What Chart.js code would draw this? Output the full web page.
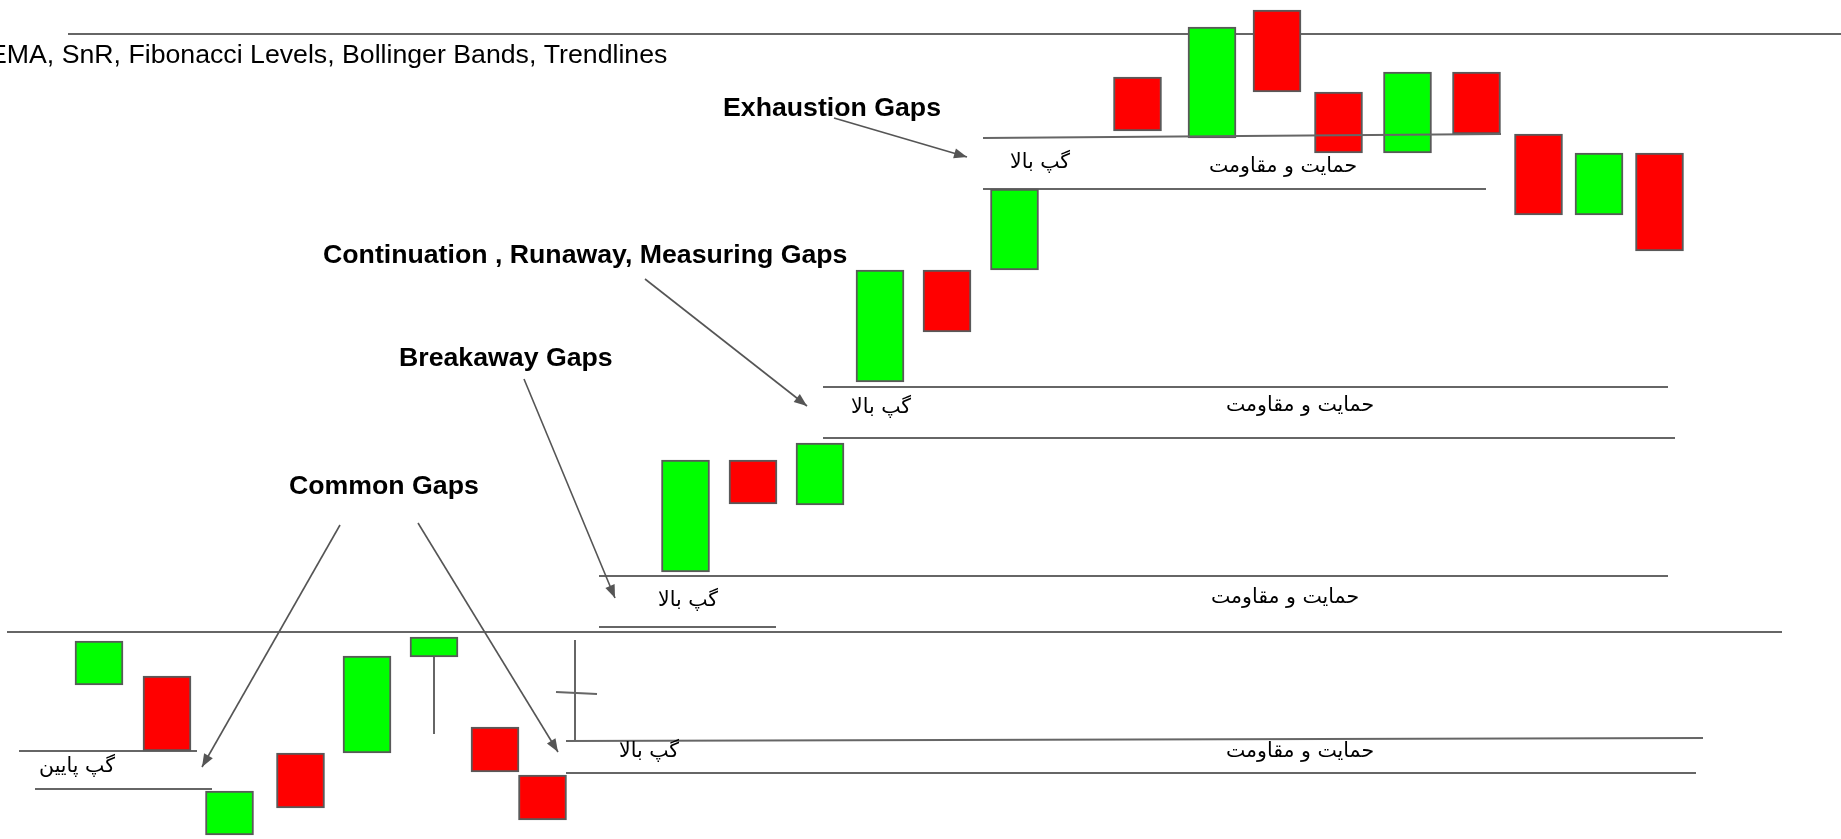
<!DOCTYPE html>
<html>
<head>
<meta charset="utf-8">
<script src="https://cdn.jsdelivr.net/npm/chart.js@4.4.1/dist/chart.umd.min.js"></script>
<style>
  html, body { margin: 0; padding: 0; background: #fff; overflow: hidden; }
  #wrap { position: relative; width: 1841px; height: 839px; }
</style>
</head>
<body>
<div id="wrap"><canvas id="gapChart"></canvas></div>
<script>
// candles: position on the time axis, open and close (price units, up = higher)
const candleX     = [99, 167, 229.5, 300.5, 367, 434, 495, 542.5, 685.5, 753, 820, 880, 947, 1014.5, 1137.5, 1212, 1277, 1338.5, 1407.5, 1476.5, 1538.5, 1599, 1659.5];
const candleOpen  = [154, 163, 4, 86, 86, 182, 112, 64, 267, 379, 334, 457, 569, 569, 762, 701, 829, 747, 686, 767, 705, 624, 686];
const candleClose = [198, 88, 48, 31, 183, 202, 67, 19, 379, 335, 396, 569, 507, 650, 708, 812, 747, 686, 767, 705, 624, 686, 588];

// support / resistance and gap lines: [x1, price1, x2, price2]
const levelLines = [
  [68, 805, 1841, 805],
  [983, 701, 1501, 705],
  [983, 650, 1486, 650],
  [823, 452, 1668, 452],
  [823, 401, 1675, 401],
  [599, 263, 1668, 263],
  [599, 212, 776, 212],
  [7, 207, 1782, 207],
  [566, 98, 1703, 101],
  [566, 66, 1696, 66],
  [19, 88, 197, 88],
  [35, 50, 212, 50],
  [575, 199, 575, 99],
  [556, 147, 597, 145],
  [434, 182, 434, 105]
];

// arrows from the labels to the gaps: [x1, price1, x2, price2]
const arrowLines = [
  [834, 721, 967, 682],
  [645, 560, 807, 433],
  [524, 460, 615, 241],
  [340, 314, 202, 72],
  [418, 316, 558, 87]
];

const gapNames = ['Exhaustion Gaps', 'Continuation , Runaway, Measuring Gaps', 'Breakaway Gaps', 'Common Gaps'];
const gapNameX = [723, 323, 399, 289];
const gapNameP = [730, 583, 480, 352];

const faLabels = ['گپ بالا', 'حمایت و مقاومت', 'گپ بالا', 'حمایت و مقاومت', 'گپ بالا', 'حمایت و مقاومت', 'گپ پایین', 'گپ بالا', 'حمایت و مقاومت'];
const faLabelX = [1040, 1283, 881, 1300, 688, 1285, 77, 649, 1300];
const faLabelP = [676, 672, 431, 433, 238, 241, 72, 87, 87];

const headerText = 'EMA, SnR, Fibonacci Levels, Bollinger Bands, Trendlines';
const headerX = -11;
const headerP = 783;

const lineGray = '#666666';
const arrowGray = '#555555';

const datasets = [];

datasets.push({
  type: 'bar',
  data: candleX.map((x, i) => ({ x: x, y: [candleOpen[i], candleClose[i]] })),
  backgroundColor: candleX.map((_, i) => candleClose[i] > candleOpen[i] ? '#00ff00' : '#ff0000'),
  borderColor: '#595959',
  borderWidth: 2,
  borderSkipped: false,
  barThickness: 48,
  order: 1
});

levelLines.forEach((l, i) => {
  datasets.push({
    type: 'line',
    data: [{ x: l[0], y: l[1] }, { x: l[2], y: l[3] }],
    borderColor: lineGray,
    borderWidth: 2,
    pointRadius: 0,
    fill: false,
    // the upper exhaustion line runs over the candles
    order: i === 1 ? 0 : 2
  });
});

arrowLines.forEach(l => {
  datasets.push({
    type: 'line',
    data: [{ x: l[0], y: l[1] }, { x: l[2], y: l[3] }],
    borderColor: arrowGray,
    borderWidth: 1.6,
    pointRadius: 0,
    fill: false,
    isArrow: true,
    order: 0
  });
});

const arrowHeads = {
  id: 'arrowHeads',
  afterDatasetsDraw(chart) {
    const ctx = chart.ctx;
    chart.data.datasets.forEach((ds, i) => {
      if (!ds.isArrow) return;
      const pts = chart.getDatasetMeta(i).data;
      const a = pts[0], b = pts[pts.length - 1];
      const ang = Math.atan2(b.y - a.y, b.x - a.x);
      const len = 13, half = 5;
      ctx.save();
      ctx.fillStyle = arrowGray;
      ctx.beginPath();
      ctx.moveTo(b.x, b.y);
      ctx.lineTo(b.x - len * Math.cos(ang) + half * Math.sin(ang), b.y - len * Math.sin(ang) - half * Math.cos(ang));
      ctx.lineTo(b.x - len * Math.cos(ang) - half * Math.sin(ang), b.y - len * Math.sin(ang) + half * Math.cos(ang));
      ctx.closePath();
      ctx.fill();
      ctx.restore();
    });
  }
};

const chartTexts = {
  id: 'chartTexts',
  afterDraw(chart) {
    const ctx = chart.ctx;
    const xs = chart.scales.x, ys = chart.scales.y;
    ctx.save();
    ctx.fillStyle = '#000';
    ctx.textBaseline = 'middle';

    ctx.font = '26.7px "Liberation Sans", Arial, sans-serif';
    ctx.textAlign = 'left';
    ctx.fillText(headerText, xs.getPixelForValue(headerX), ys.getPixelForValue(headerP));

    ctx.font = 'bold 26.7px "Liberation Sans", Arial, sans-serif';
    gapNames.forEach((t, i) => {
      ctx.fillText(t, xs.getPixelForValue(gapNameX[i]), ys.getPixelForValue(gapNameP[i]));
    });

    ctx.font = '20.5px "DejaVu Sans", sans-serif';
    ctx.textAlign = 'center';
    ctx.direction = 'rtl';
    faLabels.forEach((t, i) => {
      ctx.fillText(t, xs.getPixelForValue(faLabelX[i]), ys.getPixelForValue(faLabelP[i]));
    });
    ctx.restore();
  }
};

new Chart(document.getElementById('gapChart').getContext('2d'), {
  data: { datasets: datasets },
  options: {
    responsive: true,
    maintainAspectRatio: false,
    animation: false,
    layout: { padding: 0 },
    plugins: { legend: { display: false }, tooltip: { enabled: false } },
    scales: {
      x: { type: 'linear', min: 0, max: 1841, offset: false, display: false },
      y: { type: 'linear', min: 0, max: 839, display: false }
    }
  },
  plugins: [arrowHeads, chartTexts]
});
</script>
</body>
</html>
